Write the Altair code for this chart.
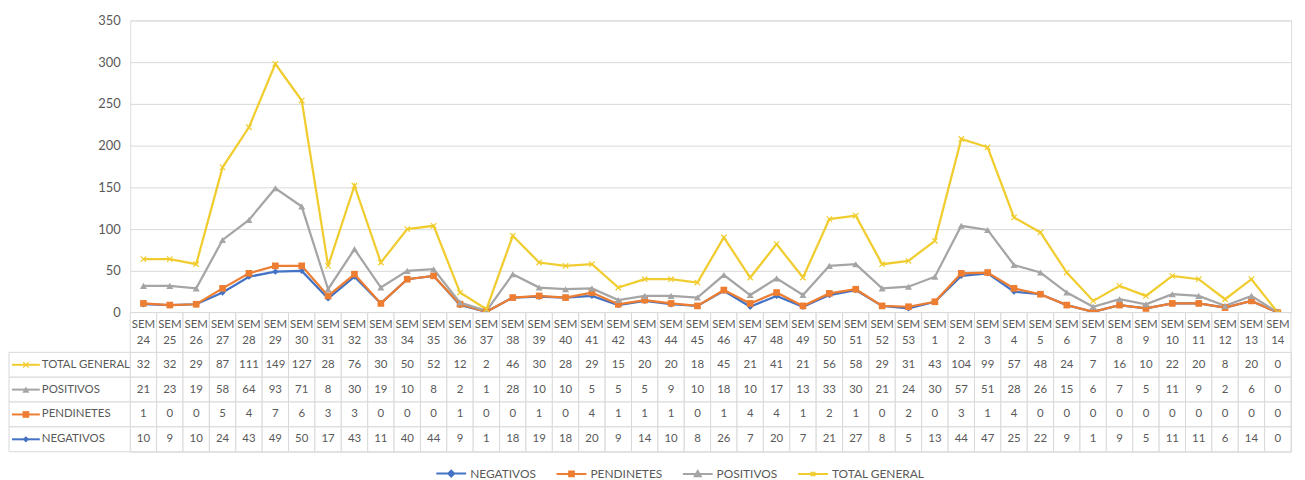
import altair as alt
import pandas as pd

# ---------------- data ----------------
weeks = ["24", "25", "26", "27", "28", "29", "30", "31", "32", "33", "34", "35", "36", "37", "38",
         "39", "40", "41", "42", "43", "44", "45", "46", "47", "48", "49", "50", "51", "52", "53",
         "1", "2", "3", "4", "5", "6", "7", "8", "9", "10", "11", "12", "13", "14"]

total_general = [32, 32, 29, 87, 111, 149, 127, 28, 76, 30, 50, 52, 12, 2, 46, 30, 28, 29, 15, 20,
                 20, 18, 45, 21, 41, 21, 56, 58, 29, 31, 43, 104, 99, 57, 48, 24, 7, 16, 10, 22,
                 20, 8, 20, 0]
positivos = [21, 23, 19, 58, 64, 93, 71, 8, 30, 19, 10, 8, 2, 1, 28, 10, 10, 5, 5, 5,
             9, 10, 18, 10, 17, 13, 33, 30, 21, 24, 30, 57, 51, 28, 26, 15, 6, 7, 5, 11,
             9, 2, 6, 0]
pendinetes = [1, 0, 0, 5, 4, 7, 6, 3, 3, 0, 0, 0, 1, 0, 0, 1, 0, 4, 1, 1,
              1, 0, 1, 4, 4, 1, 2, 1, 0, 2, 0, 3, 1, 4, 0, 0, 0, 0, 0, 0,
              0, 0, 0, 0]
negativos = [10, 9, 10, 24, 43, 49, 50, 17, 43, 11, 40, 44, 9, 1, 18, 19, 18, 20, 9, 14,
             10, 8, 26, 7, 20, 7, 21, 27, 8, 5, 13, 44, 47, 25, 22, 9, 1, 9, 5, 11,
             11, 6, 14, 0]

series = ["NEGATIVOS", "PENDINETES", "POSITIVOS", "TOTAL GENERAL"]
series_values = [negativos, pendinetes, positivos, total_general]
table_rows = ["TOTAL GENERAL", "POSITIVOS", "PENDINETES", "NEGATIVOS"]

# ---------------- styles ----------------
FONT = "Lato"
TXT = "#595959"
GRID = "#D9D9D9"
TFS = 11.5
colors = ["#4472C4", "#ED7D31", "#A5A5A5", "#F0CC2E"]
marker_shapes = ["diamond", "square", "triangle-up", "M-1,-1L1,1M-1,1L1,-1"]
marker_sizes = [40, 45, 50, 30]
legend_paths = [
    "M-1,0H1M0,-0.2L0.2,0L0,0.2L-0.2,0Z",
    "M-1,0H1M-0.16,-0.16H0.16V0.16H-0.16Z",
    "M-1,0H1M0,-0.2L0.2,0.15L-0.2,0.15Z",
    "M-1,0H1M-0.14,-0.14L0.14,0.14M-0.14,0.14L0.14,-0.14",
]

# stacked (Excel "stacked line") values
rows = []
cum = [0] * len(weeks)
for s, vals in zip(series, series_values):
    for i, w in enumerate(weeks):
        cum[i] += vals[i]
        rows.append({"week": w, "series": s, "value": vals[i], "stacked": cum[i]})
df = pd.DataFrame(rows)

# ---------------- top line chart ----------------
W = 1168
x_top = alt.X("week:N", sort=weeks, scale=alt.Scale(type="point", padding=0.5), axis=None)
y_top = alt.Y("stacked:Q", scale=alt.Scale(domain=[0, 350], nice=False),
              axis=alt.Axis(values=[0, 50, 100, 150, 200, 250, 300, 350], grid=True,
                            gridColor=GRID, gridWidth=1, domain=False, ticks=False,
                            labelPadding=10, labelFont=FONT, labelFontSize=13,
                            labelColor=TXT, title=None))

base = alt.Chart(df)
top_layers = []
for s, c in zip(series, colors):
    top_layers.append(base.transform_filter(alt.datum.series == s)
                      .mark_line(color=c, strokeWidth=2.25)
                      .encode(x=x_top, y=y_top))
for s, c, sh, sz in zip(series, colors, marker_shapes, marker_sizes):
    filled = not sh.startswith("M")
    top_layers.append(base.transform_filter(alt.datum.series == s)
                      .mark_point(shape=sh, filled=filled, color=c, size=sz, opacity=1,
                                  strokeWidth=1.2)
                      .encode(x=x_top, y=y_top))
top = alt.layer(*top_layers).properties(width=W, height=294)

# ---------------- data table ----------------
trows = []
for r in table_rows:
    vals = series_values[series.index(r)]
    for i, w in enumerate(weeks):
        trows.append({"week": w, "series": r, "value": vals[i]})
tdf = pd.DataFrame(trows)
hdf = pd.DataFrame({"week": weeks})
ldf = pd.DataFrame({"series": table_rows})

x_t = alt.X("week:N", sort=weeks, scale=alt.Scale(type="band", paddingInner=0, paddingOuter=0), axis=None)
y_t = alt.Y("series:N", sort=table_rows, scale=alt.Scale(type="band", paddingInner=0, paddingOuter=0), axis=None)

cells = alt.Chart(tdf).mark_rect(fill="white", stroke=GRID, strokeWidth=1).encode(x=x_t, y=y_t)
cell_text = alt.Chart(tdf).mark_text(font=FONT, fontSize=TFS, color=TXT).encode(
    x=x_t, y=y_t, text="value:Q")
head_cells = alt.Chart(hdf).mark_rect(fill="white", stroke=GRID, strokeWidth=1).encode(
    x=x_t, y=alt.value(-40), y2=alt.value(0))
head_sem = alt.Chart(hdf).mark_text(font=FONT, fontSize=TFS, color=TXT).encode(
    x=x_t, y=alt.value(-28), text=alt.value("SEM"))
head_num = alt.Chart(hdf).mark_text(font=FONT, fontSize=TFS, color=TXT).encode(
    x=x_t, y=alt.value(-11), text="week:N")
lab_cells = alt.Chart(ldf).mark_rect(fill="white", stroke=GRID, strokeWidth=1).encode(
    x=alt.value(-122), x2=alt.value(0), y=y_t)
lab_text = alt.Chart(ldf).mark_text(font=FONT, fontSize=TFS, color=TXT, align="left").encode(
    x=alt.value(-89), y=y_t, text="series:N")
key_layers = []
for s, c, sh, sz in zip(series, colors, marker_shapes, marker_sizes):
    filled = not sh.startswith("M")
    sub = alt.Chart(ldf).transform_filter(alt.datum.series == s)
    key_layers.append(sub.mark_rule(color=c, strokeWidth=2).encode(
        x=alt.value(-119), x2=alt.value(-91), y=y_t))
    key_layers.append(sub.mark_point(shape=sh, filled=filled, color=c, size=sz, opacity=1,
                                     strokeWidth=1.2).encode(x=alt.value(-105), y=y_t))

leg = alt.Legend(orient="none", legendX=307, legendY=440, direction="horizontal", title=None,
                 symbolSize=900, symbolStrokeWidth=2, labelFont=FONT, labelFontSize=12,
                 labelColor=TXT, labelOffset=3, columnPadding=16, padding=0)
legend_layer = alt.Chart(ldf).transform_filter("false").mark_point(
    filled=True, opacity=1).encode(
    fill=alt.Fill("series:N", scale=alt.Scale(domain=series, range=colors), legend=leg),
    stroke=alt.Stroke("series:N", scale=alt.Scale(domain=series, range=colors), legend=leg),
    shape=alt.Shape("series:N", scale=alt.Scale(domain=series, range=legend_paths), legend=leg),
)

table = alt.layer(cells, head_cells, lab_cells, cell_text, head_sem, head_num, lab_text,
                  *key_layers, legend_layer).properties(width=W, height=100)

chart = alt.vconcat(top, table, spacing=40, bounds="flush").properties(
    padding={"left": 0, "top": 4, "right": 5, "bottom": 5}
).configure_view(stroke=None).configure(font=FONT, background="white")

chart.save("out.html", embed_options={"renderer": "svg", "actions": False})
